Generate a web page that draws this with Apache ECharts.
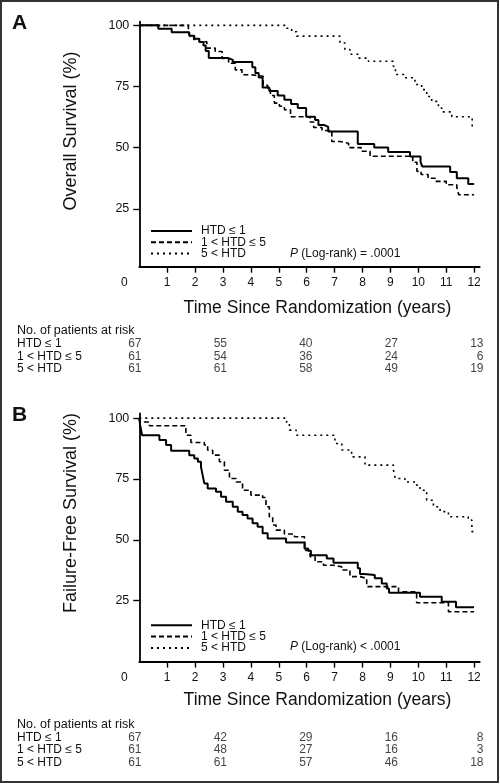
<!DOCTYPE html>
<html><head><meta charset="utf-8">
<script src="https://cdn.jsdelivr.net/npm/echarts@6/dist/echarts.min.js"></script>
<style>html,body{margin:0;padding:0;background:#fff}#c{width:500px;height:784px}</style>
</head><body><div id="c"></div><script>
// ---------- data ----------
const seriesNames = ['HTD \u2264 1', '1 < HTD \u2264 5', '5 < HTD'];
const xTickValues = [1,2,3,4,5,6,7,8,9,10,11,12];
const xLabelValues = [0,1,2,3,4,5,6,7,8,9,10,11,12];
const yTickValues = [25,50,75,100];

// Panel A: overall survival (time in years, survival %)
const osHtdLow = [[0,100],[0.68,98.6],[1.16,97.2],[1.79,95.8],[1.97,94.5],[2.15,93.2],[2.3,91.8],[2.38,89.5],[2.49,86.7],[3.17,85.9],[3.35,85.0],[4.05,82.9],[4.16,80.5],[4.28,78.7],[4.42,74.6],[4.66,73.2],[4.96,71.3],[5.2,69.6],[5.44,67.8],[5.68,66.2],[5.98,62.6],[6.3,61.3],[6.42,59.3],[6.62,58.5],[6.77,56.6],[7.83,51.5],[8.42,50.0],[8.92,48.2],[9.7,46.4],[10.08,44.2],[10.14,42.3],[11.14,40.0],[11.38,37.5],[11.79,35.1],[12,35.1]];
const osHtdMid = [[0,100],[1.76,97.5],[1.82,95.5],[1.95,94.2],[2.15,93.3],[2.42,90.7],[2.72,89.3],[2.97,86.5],[3.2,84.5],[3.44,81.8],[3.68,79.8],[4.0,79.2],[4.44,75.5],[4.6,73.7],[4.7,71.3],[4.84,68.2],[5.02,66.9],[5.2,65.5],[5.42,62.6],[6.12,60.5],[6.25,58.2],[6.55,57.0],[6.9,52.5],[7.2,51.8],[7.5,50.0],[7.95,48.5],[8.27,46.5],[9.8,44.0],[9.95,40.3],[10.1,39.0],[10.35,37.5],[10.6,36.2],[11.0,34.8],[11.38,33.7],[11.45,30.7],[12,30.7]];
const osHtdHigh = [[0,100],[5.28,98.8],[5.46,97.4],[5.64,95.6],[7.19,92.8],[7.37,90.1],[7.55,88.2],[7.85,86.6],[8.21,85.3],[9.1,83.3],[9.18,79.9],[9.52,78.6],[9.88,75.8],[10.12,73.7],[10.3,70.9],[10.48,68.9],[10.72,66.2],[10.84,64.6],[11.2,62.6],[11.93,58.8],[12,58.8]];

// Panel B: failure-free survival
const ffsHtdLow = [[0,100],[0.03,97.1],[0.1,93.0],[0.72,91.0],[0.96,89.0],[1.14,86.6],[1.79,84.8],[1.97,83.4],[2.1,82.1],[2.21,80.0],[2.27,76.6],[2.33,73.2],[2.45,71.1],[2.75,69.8],[2.93,67.7],[3.11,65.7],[3.35,63.6],[3.53,61.6],[3.7,60.2],[3.88,58.8],[4.06,56.8],[4.24,55.4],[4.42,52.7],[4.6,50.6],[5.26,48.9],[5.92,46.5],[6.05,45.5],[6.15,43.7],[6.72,42.4],[6.96,40.6],[7.83,38.3],[7.91,36.0],[8.05,35.6],[8.44,34.2],[8.69,32.1],[8.87,30.0],[8.95,28.3],[10.06,26.6],[10.84,24.6],[11.35,22.3],[12,22.3]];
const ffsHtdMid = [[0,100],[0.02,98.4],[0.36,96.9],[1.67,93.0],[1.85,90.0],[2.33,89.0],[2.45,86.8],[2.63,84.8],[2.87,82.1],[3.05,78.6],[3.23,75.2],[3.47,73.8],[3.7,70.4],[4.0,68.4],[4.42,67.4],[4.54,63.6],[4.66,59.5],[4.78,56.1],[4.9,54.0],[5.2,52.4],[5.56,51.3],[5.92,49.8],[5.96,45.7],[6.12,43.1],[6.3,41.0],[6.6,39.6],[6.96,38.9],[7.26,37.6],[7.55,34.9],[7.91,34.2],[8.15,30.8],[9.29,28.7],[9.94,24.2],[11.08,20.5],[12,20.5]];
const ffsHtdHigh = [[0,100],[5.28,98.0],[5.38,95.1],[5.62,93.0],[7.01,89.6],[7.26,86.9],[7.61,84.1],[8.09,80.7],[9.11,78.7],[9.17,75.2],[9.52,73.8],[9.94,72.5],[10.06,70.4],[10.3,66.3],[10.54,63.6],[10.78,61.6],[11.08,59.5],[11.79,58.1],[11.92,53.4],[12,53.4]];

// Numbers at risk
const riskTimes = [0,3,6,9,12];
const osRiskLow = [67,55,40,27,13];
const osRiskMid = [61,54,36,24,6];
const osRiskHigh = [61,61,58,49,19];
const ffsRiskLow = [67,42,29,16,8];
const ffsRiskMid = [61,48,27,16,3];
const ffsRiskHigh = [61,61,57,46,18];

// ---------- chart ----------
const FONT = "'Liberation Sans', Arial, Helvetica, sans-serif";
const INK = '#111';
const styles = [
  {color:'#000', width:2, type:'solid'},
  {color:'#000', width:1.6, type:[5,3]},
  {color:'#000', width:1.6, type:[2,4]}
];

function km(name, data, idx, s) {
  return {type:'line', name:name, xAxisIndex:idx, yAxisIndex:idx, data:data, step:'end',
    symbol:'none', silent:true, animation:false,
    lineStyle:{color:s.color, width:s.width, type:s.type}, itemStyle:{color:s.color}};
}
function riskSeries(idx, rows) {
  const d = [];
  rows.forEach((row, r) => row.forEach((v, c) => d.push([riskTimes[c], seriesNames[r], v])));
  return {type:'scatter', xAxisIndex:idx, yAxisIndex:idx, data:d, symbolSize:1, silent:true,
    animation:false, itemStyle:{color:'rgba(0,0,0,0)'},
    label:{show:true, position:'left', distance:0, formatter:p => String(p.value[2]),
      color:INK, fontSize:12, fontFamily:FONT}};
}
function plotX(grid) {
  return {gridIndex:grid, type:'value', min:0, max:12.2,
    axisLine:{onZero:false, lineStyle:{color:'#000', width:1.8}},
    axisTick:{customValues:xTickValues, length:6, lineStyle:{color:'#000', width:1.4}},
    axisLabel:{customValues:xLabelValues, margin:10, color:INK, fontSize:12, fontFamily:FONT,
      formatter:v => v === 0 ? '{z|0}' : String(v),
      rich:{z:{fontSize:12, fontFamily:FONT, color:INK, padding:[0,30,0,0]}}},
    splitLine:{show:false}};
}
function plotY(grid, mn, mx) {
  return {gridIndex:grid, type:'value', min:mn, max:mx,
    axisLine:{show:true, onZero:false, lineStyle:{color:'#000', width:1.8}},
    axisTick:{show:true, customValues:yTickValues, length:6, lineStyle:{color:'#000', width:1.4}},
    axisLabel:{customValues:yTickValues, margin:10, color:INK, fontSize:12.5, fontFamily:FONT},
    splitLine:{show:false}};
}
function tableX(grid) { return {gridIndex:grid, type:'value', min:0, max:12, show:false}; }
function tableY(grid) {
  return {gridIndex:grid, type:'category', inverse:true, data:seriesNames,
    axisLine:{show:false}, axisTick:{show:false}, splitLine:{show:false},
    axisLabel:{interval:0, align:'left', margin:125, color:INK, fontSize:12, fontFamily:FONT}};
}
function legendAt(top) {
  return {orient:'vertical', left:150, top:top, padding:0, itemWidth:41, itemHeight:11.3, itemGap:-0.7,
    data:seriesNames, selectedMode:false,
    itemStyle:{color:'rgba(0,0,0,0)', borderWidth:0, opacity:0},
    textStyle:{fontSize:12, fontFamily:FONT, color:INK, lineHeight:11.3, padding:[0,0,0,4]}};
}
function txt(x, y, text, opt) {
  return Object.assign({type:'text', x:x, y:y, silent:true,
    style:Object.assign({text:text, fill:INK, font:'12px ' + FONT, align:'left', verticalAlign:'middle'}, opt || {})});
}
function vtxt(x, y, text) {
  return {type:'text', x:x, y:y, rotation:Math.PI/2, silent:true,
    style:{text:text, fill:INK, font:'18px ' + FONT, align:'center', verticalAlign:'middle'}};
}
function pText(x, y, rest) {
  return {type:'text', x:x, y:y, silent:true,
    style:{text:'{i|P} ' + rest, fill:INK, font:'12px ' + FONT, align:'left', verticalAlign:'middle',
      rich:{i:{fontStyle:'italic', fontSize:12, fontFamily:FONT, fill:INK}}}};
}

const chart = echarts.init(document.getElementById('c'), null, {renderer:'canvas'});
chart.setOption({
  animation:false,
  backgroundColor:'#fff',
  grid:[
    {left:139.3, top:21.7, width:340.4, height:245},
    {left:139.3, top:413.3, width:340.4, height:248.3},
    {left:142, top:337.9, width:342, height:36.6},
    {left:142, top:731, width:342, height:38}
  ],
  xAxis:[plotX(0), plotX(1), tableX(2), tableX(3)],
  yAxis:[plotY(0, 1.3, 101.5), plotY(1, 0, 102), tableY(2), tableY(3)],
  legend:[legendAt(225), legendAt(619.3)],
  series:[
    km(seriesNames[0], osHtdLow, 0, styles[0]),
    km(seriesNames[1], osHtdMid, 0, styles[1]),
    km(seriesNames[2], osHtdHigh, 0, styles[2]),
    km(seriesNames[0], ffsHtdLow, 1, styles[0]),
    km(seriesNames[1], ffsHtdMid, 1, styles[1]),
    km(seriesNames[2], ffsHtdHigh, 1, styles[2]),
    riskSeries(2, [osRiskLow, osRiskMid, osRiskHigh]),
    riskSeries(3, [ffsRiskLow, ffsRiskMid, ffsRiskHigh])
  ],
  graphic:[
    {type:'rect', silent:true, shape:{x:1, y:1, width:497, height:781},
      style:{fill:'none', stroke:'#333', lineWidth:2}},
    txt(12, 23, 'A', {font:'bold 21px ' + FONT}),
    txt(12, 415.5, 'B', {font:'bold 21px ' + FONT}),
    vtxt(71, 131, 'Overall Survival (%)'),
    vtxt(71, 513, 'Failure-Free Survival (%)'),
    txt(317.5, 307.7, 'Time Since Randomization (years)', {font:'17.5px ' + FONT, align:'center'}),
    txt(317.5, 700, 'Time Since Randomization (years)', {font:'17.5px ' + FONT, align:'center'}),
    txt(17, 330.7, 'No. of patients at risk', {font:'12.5px ' + FONT}),
    txt(17, 724.3, 'No. of patients at risk', {font:'12.5px ' + FONT}),
    pText(290, 253.3, '(Log-rank) = .0001'),
    pText(290, 646.7, '(Log-rank) < .0001')
  ]
});
</script></body></html>
